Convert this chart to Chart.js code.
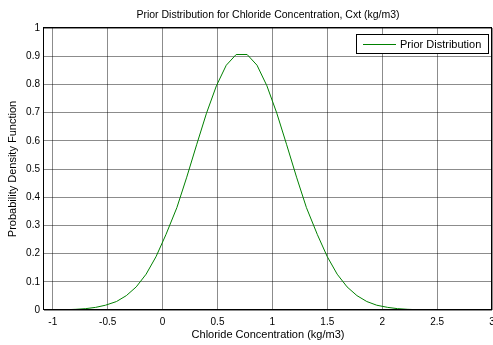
<!DOCTYPE html>
<html>
<head>
<meta charset="utf-8">
<script src="https://cdn.jsdelivr.net/npm/chart.js@4.4.1/dist/chart.umd.min.js"></script>
<style>
  html, body { margin: 0; padding: 0; background: #fff; }
  #wrap { width: 493px; height: 345px; }
</style>
</head>
<body>
<div id="wrap"><canvas id="myChart" width="493" height="345"></canvas></div>
<script>
// Data
var xValues = [-1.08, -0.97, -0.88, -0.79, -0.70, -0.61, -0.52, -0.42, -0.33, -0.24, -0.15, -0.06,
    0.03, 0.13, 0.22, 0.31, 0.40, 0.49, 0.58, 0.67, 0.77, 0.86, 0.95, 1.04, 1.13, 1.22, 1.31,
    1.41, 1.50, 1.59, 1.68, 1.77, 1.86, 1.95, 2.05, 2.14, 2.23, 2.32, 2.41, 2.50, 2.59, 2.69,
    2.78, 2.87, 2.96, 3.00];
var priorValues = [0.0002, 0.0005, 0.0011, 0.0024, 0.0048, 0.0093, 0.017, 0.030, 0.051, 0.082, 0.127, 0.189,
    0.267, 0.363, 0.471, 0.586, 0.698, 0.795, 0.868, 0.906, 0.906, 0.868, 0.795, 0.698, 0.586, 0.471, 0.363,
    0.267, 0.189, 0.127, 0.082, 0.051, 0.030, 0.017, 0.0093, 0.0048, 0.0024, 0.0011, 0.0005, 0.0002, 0.0001, 0,
    0, 0, 0, 0];
var xTicks = [-1, -0.5, 0, 0.5, 1, 1.5, 2, 2.5, 3];
var yTicks = [0, 0.1, 0.2, 0.3, 0.4, 0.5, 0.6, 0.7, 0.8, 0.9, 1];

var chartTitle = 'Prior Distribution for Chloride Concentration, Cxt (kg/m3)';
var seriesName = 'Prior Distribution';
var lineColor = 'rgb(0, 128, 0)';
var fontFamily = '"Liberation Sans", Arial, sans-serif';

var points = xValues.map(function(x, i) { return { x: x, y: priorValues[i] }; });

// title over the plot, box round the plot and the MATLAB style legend
var boxPlugin = {
    id: 'box',
    afterDraw: function(chart) {
        var ctx = chart.ctx;
        var a = chart.chartArea;
        ctx.save();
        ctx.fillStyle = '#000';
        ctx.font = '10.5px ' + fontFamily;
        ctx.textAlign = 'center';
        ctx.textBaseline = 'middle';
        ctx.fillText(chartTitle, (a.left + a.right) / 2, 15);

        ctx.strokeStyle = '#000';
        ctx.lineWidth = 1;
        ctx.strokeRect(a.left - 0.5, a.top - 0.5, a.right - a.left, a.bottom - a.top);

        // legend
        ctx.fillStyle = '#fff';
        ctx.fillRect(356, 34, 132, 19);
        ctx.strokeRect(356.5, 34.5, 132, 19);
        ctx.strokeStyle = lineColor;
        ctx.beginPath();
        ctx.moveTo(363, 44.5);
        ctx.lineTo(396, 44.5);
        ctx.stroke();
        ctx.fillStyle = '#000';
        ctx.font = '11px ' + fontFamily;
        ctx.textAlign = 'left';
        ctx.fillText(seriesName, 400, 44.5);
        ctx.restore();
    }
};

var ctx = document.getElementById('myChart').getContext('2d');
var myChart = new Chart(ctx, {
    type: 'line',
    data: {
        datasets: [{
            label: seriesName,
            data: points,
            borderColor: lineColor,
            borderWidth: 1,
            pointRadius: 0,
            tension: 0,
            fill: false
        }]
    },
    options: {
        responsive: false,
        animation: false,
        layout: { padding: { left: 0, right: 1, top: 28, bottom: 0 } },
        plugins: {
            legend: { display: false },
            tooltip: { enabled: false },
            title: { display: false }
        },
        scales: {
            x: {
                type: 'linear',
                min: -1.08,
                max: 3,
                afterBuildTicks: function(s) { s.ticks = xTicks.map(function(v) { return { value: v }; }); },
                afterFit: function(s) { s.height = 35; s.paddingLeft = 0; s.paddingRight = 0; },
                grid: { color: 'rgba(0,0,0,0.45)', drawTicks: false },
                border: { display: false },
                ticks: {
                    color: '#000',
                    font: { family: fontFamily, size: 10 },
                    padding: 6,
                    maxRotation: 0,
                    autoSkip: false,
                    callback: function(v) { return String(v); }
                },
                title: {
                    display: true,
                    text: 'Chloride Concentration (kg/m3)',
                    color: '#000',
                    font: { family: fontFamily, size: 11 },
                    padding: { top: 4, bottom: 3 }
                }
            },
            y: {
                min: 0,
                max: 1,
                afterBuildTicks: function(s) { s.ticks = yTicks.map(function(v) { return { value: v }; }); },
                afterFit: function(s) { s.width = 44; s.paddingTop = 0; s.paddingBottom = 0; },
                grid: { color: 'rgba(0,0,0,0.45)', drawTicks: false },
                border: { display: false },
                ticks: {
                    color: '#000',
                    font: { family: fontFamily, size: 10 },
                    padding: 4,
                    autoSkip: false,
                    callback: function(v) { return String(Math.round(v * 10) / 10); }
                },
                title: {
                    display: true,
                    text: 'Probability Density Function',
                    color: '#000',
                    font: { family: fontFamily, size: 11 },
                    padding: { top: 6, bottom: 4 }
                }
            }
        }
    },
    plugins: [boxPlugin]
});
</script>
</body>
</html>
